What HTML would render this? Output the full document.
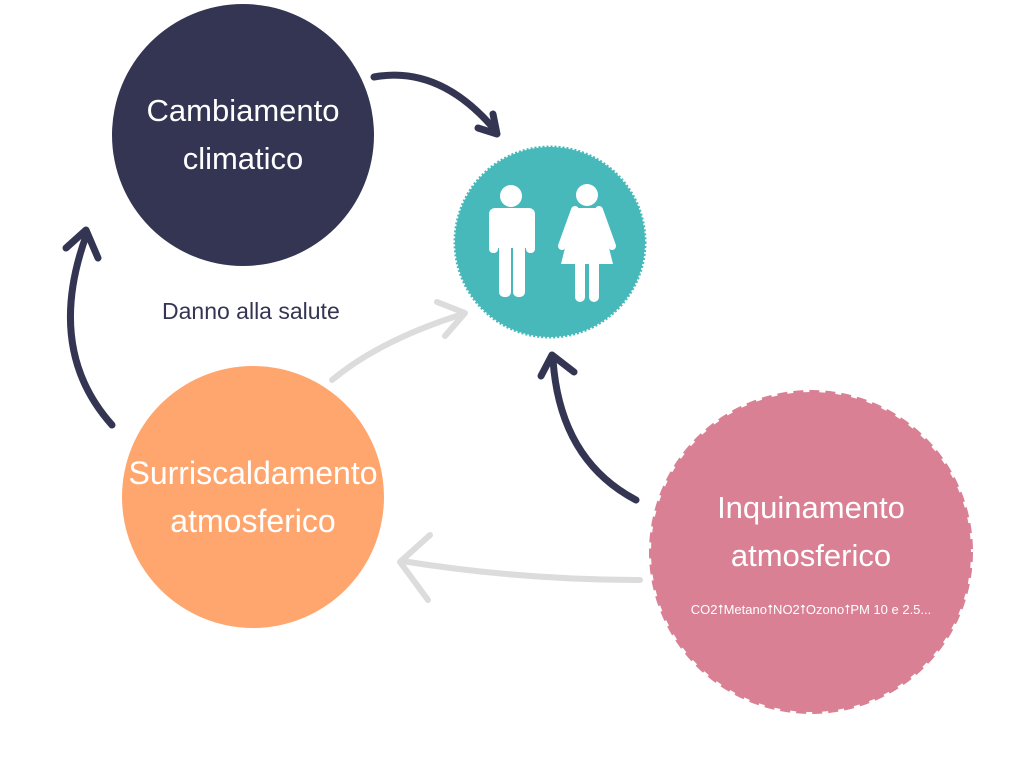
<!DOCTYPE html>
<html><head><style>
body{margin:0;width:1024px;height:768px;background:#fff;overflow:hidden;position:relative;font-family:"Liberation Sans",sans-serif}
.t{position:absolute;color:#fff;text-align:center;font-size:31px;line-height:48px}
</style></head><body>
<svg width="1024" height="768" style="position:absolute;left:0;top:0">
<circle cx="243" cy="135" r="131" fill="#343553"/>
<circle cx="550" cy="242" r="95" fill="#47B9BA" stroke="#47B9BA" stroke-width="3" stroke-dasharray="2 2"/>
<circle cx="253" cy="497" r="131" fill="#FFA66F"/>
<circle cx="811" cy="552" r="160" fill="#D98094" stroke="#D98094" stroke-width="4" stroke-dasharray="10 6"/>
<g fill="#fff">
<circle cx="511" cy="196" r="11"/>
<rect x="489" y="208" width="46" height="40" rx="6"/>
<rect x="489" y="215" width="9" height="38" rx="4"/>
<rect x="526" y="215" width="9" height="38" rx="4"/>
<rect x="499" y="240" width="12" height="57" rx="5"/>
<rect x="513" y="240" width="12" height="57" rx="5"/>
<circle cx="587" cy="195" r="11"/>
<path d="M575 208 H599 L613 264 H561 Z"/>
<path d="M575 210 L562 246" stroke="#fff" stroke-width="8" stroke-linecap="round"/>
<path d="M599 210 L612 246" stroke="#fff" stroke-width="8" stroke-linecap="round"/>
<rect x="575" y="255" width="10" height="47" rx="5"/>
<rect x="589" y="255" width="10" height="47" rx="5"/>
</g>
<g fill="none" stroke="#343553" stroke-width="7" stroke-linecap="round" stroke-linejoin="round">
<path d="M374 77 Q440 65 495 130"/>
<path d="M478 128 L497 134 L493 114"/>
<path d="M112 425 Q45 350 86 236"/>
<path d="M66 248 L86 230 L98 258"/>
<path d="M636 500 Q560 460 553 360"/>
<path d="M541 376 L552 355 L574 372"/>
</g>
<g fill="none" stroke="#dcdcdc" stroke-width="6" stroke-linecap="round" stroke-linejoin="round">
<path d="M332 380 Q380 340 463 314"/>
<path d="M437 302 L465 313 L445 336"/>
<path d="M640 580 Q520 580 402 561"/>
<path d="M430 535 L400 562 L428 600"/>
</g>
</svg>
<div class="t" style="left:113px;top:87px;width:260px">Cambiamento<br>climatico</div>
<div class="t" style="left:103px;top:449px;width:300px;font-size:32px">Surriscaldamento<br>atmosferico</div>
<div class="t" style="left:680px;top:484px;width:262px">Inquinamento<br>atmosferico</div>
<div class="t" style="left:670px;top:600px;width:282px;font-size:13px;line-height:20px">CO2⭡Metano⭡NO2⭡Ozono⭡PM 10 e 2.5...</div>
<div style="position:absolute;left:162px;top:298px;font-size:23px;color:#343553">Danno alla salute</div>
</body></html>
